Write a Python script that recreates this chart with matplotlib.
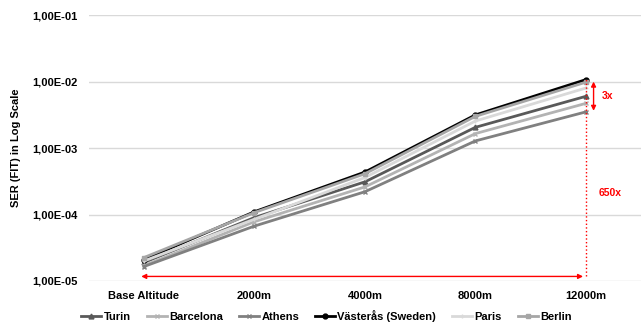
import matplotlib.pyplot as plt
import numpy as np

plt.rcParams['font.family'] = ['Liberation Sans', 'DejaVu Sans']

altitudes = ["Base Altitude", "2000m", "4000m", "8000m", "12000m"]
turin = [1.9e-5, 9.0e-5, 3.1e-4, 2.05e-3, 6.0e-3]
barcelona = [1.7e-5, 7.8e-5, 2.6e-4, 1.65e-3, 4.7e-3]
athens = [1.65e-5, 6.7e-5, 2.2e-4, 1.28e-3, 3.5e-3]
vasteras = [2.1e-5, 1.1e-4, 4.35e-4, 3.15e-3, 1.07e-2]
paris = [2.0e-5, 8.5e-5, 3.6e-4, 2.55e-3, 8.0e-3]
berlin = [2.25e-5, 1.07e-4, 4.1e-4, 3.0e-3, 9.8e-3]

series = [
    ("Turin", turin, "#595959", "^"),
    ("Barcelona", barcelona, "#b3b3b3", "x"),
    ("Athens", athens, "#808080", "x"),
    ("Västerås (Sweden)", vasteras, "#000000", "o"),
    ("Paris", paris, "#d9d9d9", "+"),
    ("Berlin", berlin, "#a6a6a6", "s"),
]

fig = plt.figure(figsize=(6.43, 3.29), dpi=100)
ax = fig.add_axes([0.138, 0.146, 0.859, 0.808])

x = np.arange(len(altitudes))
for name, vals, col, mk in series:
    ax.plot(x, vals, color=col, marker=mk, markersize=3.5, linewidth=2, label=name)

ax.set_yscale("log")
ax.set_ylim(1e-5, 1e-1)
ax.set_xlim(-0.5, 4.5)
ax.set_yticks([1e-5, 1e-4, 1e-3, 1e-2, 1e-1])
ax.set_yticklabels(["1,00E-05", "1,00E-04", "1,00E-03", "1,00E-02", "1,00E-01"])
ax.minorticks_off()
ax.set_xticks(x)
ax.set_xticklabels(altitudes)
for lab in ax.get_xticklabels() + ax.get_yticklabels():
    lab.set_fontweight("bold")
    lab.set_fontsize(8)
ax.tick_params(axis="y", length=0, pad=8)
ax.tick_params(axis="x", length=0, pad=7)
ax.grid(axis="y", color="#d9d9d9", linewidth=1)
for s in ax.spines.values():
    s.set_visible(False)
ax.set_ylabel("SER (FIT) in Log Scale", fontweight="bold", fontsize=8, labelpad=8)

# red annotations
red = "#ff0000"
ax.annotate("", xy=(-0.05, 1.17e-5), xytext=(4.0, 1.17e-5),
            arrowprops=dict(arrowstyle="<|-|>", color=red, lw=1, mutation_scale=7))
ax.plot([4.0, 4.0], [1.17e-5, 1.1e-2], color=red, linestyle=":", linewidth=1)
ax.annotate("", xy=(4.07, 1.1e-2), xytext=(4.07, 3.3e-3),
            arrowprops=dict(arrowstyle="<|-|>", color=red, lw=1, mutation_scale=7))
ax.text(4.14, 6.0e-3, "3x", color=red, fontsize=7.5, fontweight="bold", va="center")
ax.text(4.12, 2.1e-4, "650x", color=red, fontsize=7.5, fontweight="bold", va="center")

fig.legend(loc="lower center", ncol=6, frameon=False,
           prop={"weight": "bold", "size": 8}, handlelength=1.8,
           columnspacing=1.45, handletextpad=0.2, bbox_to_anchor=(0.508, -0.01))

fig.savefig("out.png", dpi=100)
